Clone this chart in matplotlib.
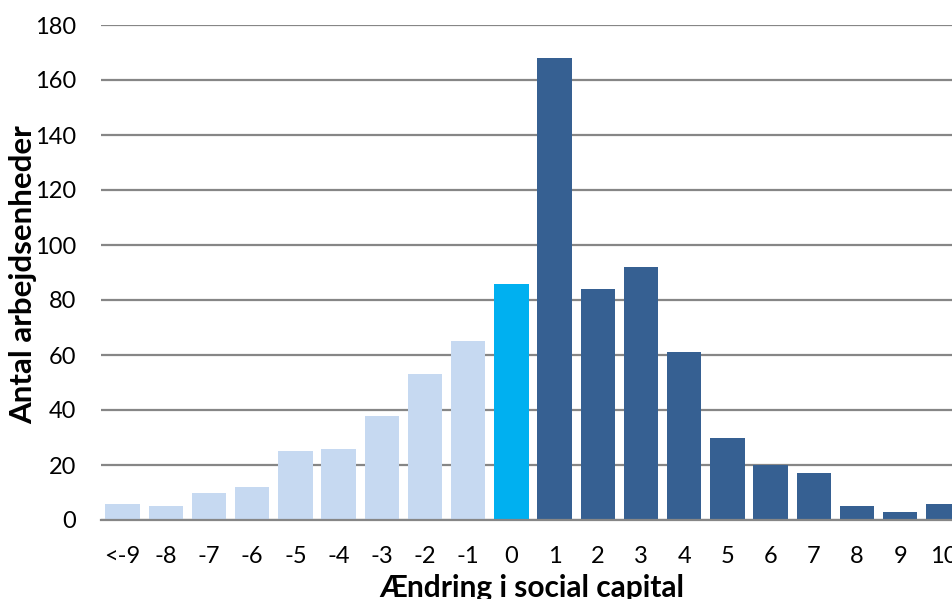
import matplotlib
matplotlib.use("Agg")
import matplotlib.pyplot as plt

categories = ["<-9", "-8", "-7", "-6", "-5", "-4", "-3", "-2", "-1", "0",
              "1", "2", "3", "4", "5", "6", "7", "8", "9", "10"]
values = [6, 5, 10, 12, 25, 26, 38, 53, 65, 86,
          168, 84, 92, 61, 30, 20, 17, 5, 3, 6]
yticks = [0, 20, 40, 60, 80, 100, 120, 140, 160, 180]

c_neg = "#C6D9F1"
c_zero = "#00B0F0"
c_pos = "#366092"
colors = [c_neg] * 9 + [c_zero] + [c_pos] * 10

plt.rcParams['font.family'] = ['Lato', 'DejaVu Sans']

W, H = 953, 599
fig = plt.figure(figsize=(W / 100, H / 100), dpi=100)
left, right, bottom, top = 101, 965, 520, 25
ax = fig.add_axes([left / W, 1 - bottom / H, (right - left) / W, (bottom - top) / H])

x = list(range(len(categories)))
ax.bar(x, values, width=0.8, color=colors, zorder=3)
ax.set_xlim(-0.5, len(categories) - 0.5)
ax.set_ylim(0, 180)
ax.set_yticks(yticks)
ax.set_xticks(x)
ax.set_xticklabels(categories)
ax.yaxis.grid(True, color="#868686", linewidth=1.6, zorder=0)
ax.set_axisbelow(True)
for s in ["top", "right", "left"]:
    ax.spines[s].set_visible(False)
ax.spines["bottom"].set_color("#868686")
ax.spines["bottom"].set_linewidth(1.6)
ax.spines["bottom"].set_zorder(4)
ax.tick_params(axis="both", length=0, labelsize=17, colors="black")
ax.tick_params(axis="y", pad=18)
ax.tick_params(axis="x", pad=19)

fig.text(23 / W, 1 - 275 / H, "Antal arbejdsenheder", rotation=90,
         ha="center", va="center", fontsize=22.5, fontweight="bold")
fig.text(532 / W, 1 - 597 / H, "Ændring i social capital",
         ha="center", va="baseline", fontsize=21.5, fontweight="bold")

fig.savefig("out.png", dpi=100)
